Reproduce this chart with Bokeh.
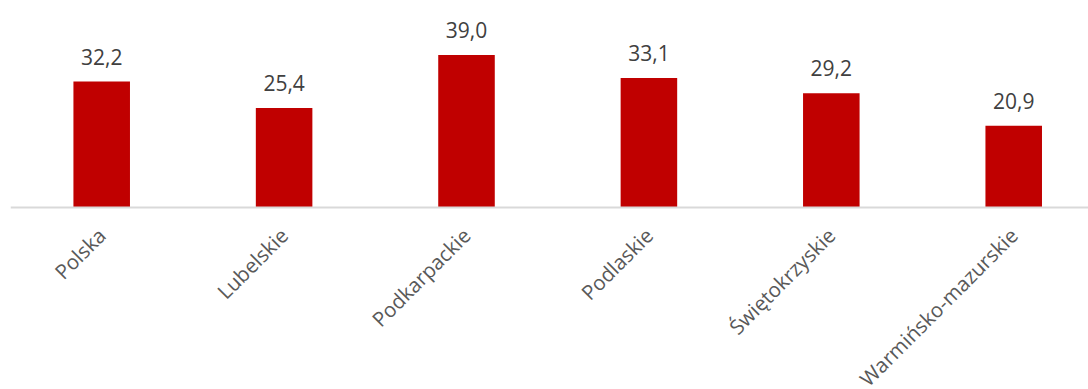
import math
from bokeh.plotting import figure
from bokeh.models import ColumnDataSource, FixedTicker, Range1d
from bokeh.core.properties import value
from bokeh.embed import file_html
from bokeh.resources import INLINE

categories = ["Polska", "Lubelskie", "Podkarpackie", "Podlaskie", "Świętokrzyskie", "Warmińsko-mazurskie"]
values = [32.2, 25.4, 39.0, 33.1, 29.2, 20.9]
labels = ["32,2", "25,4", "39,0", "33,1", "29,2", "20,9"]

xs = list(range(len(categories)))
src = ColumnDataSource(dict(x=xs, top=values, lab=labels))

p = figure(width=1088, height=389, output_backend="svg", toolbar_location=None,
           x_range=Range1d(-0.5, 5.41), y_range=Range1d(-46.51, 52.9),
           min_border_left=10, min_border_right=0, min_border_top=0, min_border_bottom=0)
p.outline_line_color = None
p.grid.grid_line_color = None
p.yaxis.visible = False

p.vbar(x="x", top="top", bottom=0, width=0.31, source=src, fill_color="#C00000", line_color=None)
p.text(x="x", y="top", text="lab", source=src, text_align="center", text_baseline="middle",
       y_offset=-25, text_font=value("Open Sans"), text_font_size="21px", text_color="#404040")

ax = p.xaxis[0]
ax.fixed_location = 0
ax.ticker = FixedTicker(ticks=xs)
ax.major_label_overrides = {i: c for i, c in enumerate(categories)}
ax.major_label_orientation = math.pi / 4
ax.major_label_text_font = "Open Sans"
ax.major_label_text_font_size = "20.5px"
ax.major_label_text_color = "#595959"
ax.major_label_standoff = 18
ax.axis_line_color = "#D9D9D9"
ax.axis_line_width = 2
ax.major_tick_line_color = None
ax.minor_tick_line_color = None

open("out.html", "w").write(file_html(p, INLINE))
